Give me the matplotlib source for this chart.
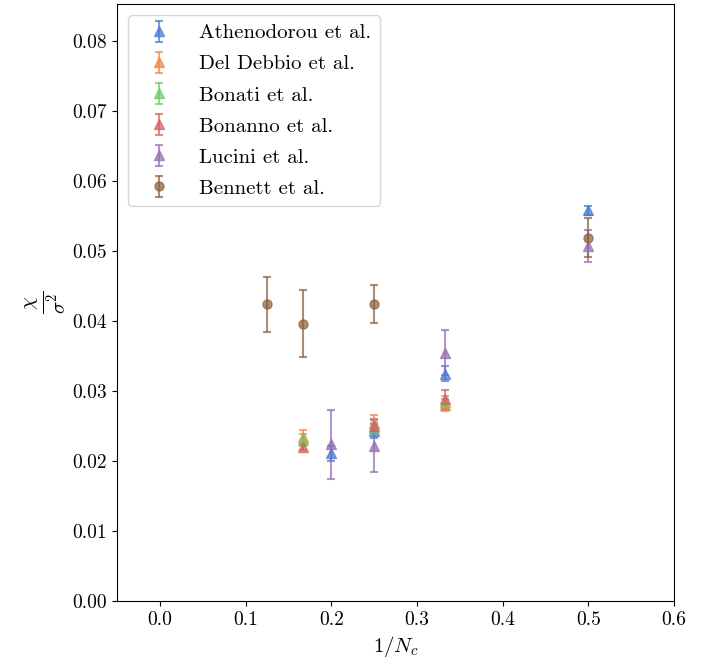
import numpy as np
import matplotlib
matplotlib.use("Agg")
import matplotlib.pyplot as plt

plt.rcParams['font.family'] = 'serif'
plt.rcParams['font.serif'] = ['cmr10', 'DejaVu Serif']
plt.rcParams['mathtext.fontset'] = 'cm'
plt.rcParams['axes.formatter.use_mathtext'] = True
plt.rcParams['font.size'] = 14

# 1/N_c values and chi/sigma^2 with errors
athen_x = [1/5, 1/4, 1/3, 1/2]
athen_y = [0.0211, 0.0243, 0.0325, 0.0558]
athen_e = [0.0011, 0.0010, 0.0011, 0.0006]

deld_x = [1/6, 1/4, 1/3]
deld_y = [0.0235, 0.0255, 0.0280]
deld_e = [0.0010, 0.0011, 0.0008]

bonati_x = [1/6, 1/4, 1/3]
bonati_y = [0.0230, 0.0247, 0.0285]
bonati_e = [0.0008, 0.0007, 0.0008]

bonanno_x = [1/6, 1/4, 1/3]
bonanno_y = [0.0220, 0.0250, 0.0288]
bonanno_e = [0.0004, 0.0010, 0.0013]

lucini_x = [1/5, 1/4, 1/3, 1/2]
lucini_y = [0.0224, 0.0222, 0.0355, 0.0507]
lucini_e = [0.0049, 0.0037, 0.0032, 0.0023]

bennett_x = [1/8, 1/6, 1/4, 1/2]
bennett_y = [0.0424, 0.0396, 0.0424, 0.0519]
bennett_e = [0.0039, 0.0048, 0.0027, 0.0028]

colors = ['#4878d0', '#ee854a', '#6acc64', '#d65f5f', '#956cb4', '#8c613c']

fig = plt.figure(figsize=(7.03, 6.64), dpi=100)
ax = fig.add_axes([117/703, 1 - 601/664, (674 - 117)/703, (601 - 4)/664])

series = [
    (athen_x, athen_y, athen_e, '^', 'Athenodorou et al.'),
    (deld_x, deld_y, deld_e, '^', 'Del Debbio et al.'),
    (bonati_x, bonati_y, bonati_e, '^', 'Bonati et al.'),
    (bonanno_x, bonanno_y, bonanno_e, '^', 'Bonanno et al.'),
    (lucini_x, lucini_y, lucini_e, '^', 'Lucini et al.'),
    (bennett_x, bennett_y, bennett_e, 'o', 'Bennett et al.'),
]
for (x, y, e, m, lab), c in zip(series, colors):
    ax.errorbar(x, y, yerr=e, fmt=m, color=c, alpha=0.72, capsize=3,
                markersize=6.5, elinewidth=1.5, capthick=1.5, label=lab)

ax.set_xlim(-0.05, 0.6)
ax.set_ylim(0, 0.0853)
ax.set_xticks([0.0, 0.1, 0.2, 0.3, 0.4, 0.5, 0.6])
ax.set_yticks(np.arange(0, 0.081, 0.01))
ax.set_xticklabels(['0.0', '0.1', '0.2', '0.3', '0.4', '0.5', '0.6'])
ax.set_yticklabels(['0.00', '0.01', '0.02', '0.03', '0.04', '0.05', '0.06', '0.07', '0.08'])
ax.set_xlabel(r'$1/N_c$', fontsize=15)
ax.set_ylabel(r'$\frac{\chi}{\sigma^2}$', fontsize=21)
ax.legend(loc='upper left', fontsize=15, handletextpad=0.9, handlelength=2.1,
          labelspacing=0.6, borderaxespad=0.55)

fig.savefig('out.png', dpi=100)
